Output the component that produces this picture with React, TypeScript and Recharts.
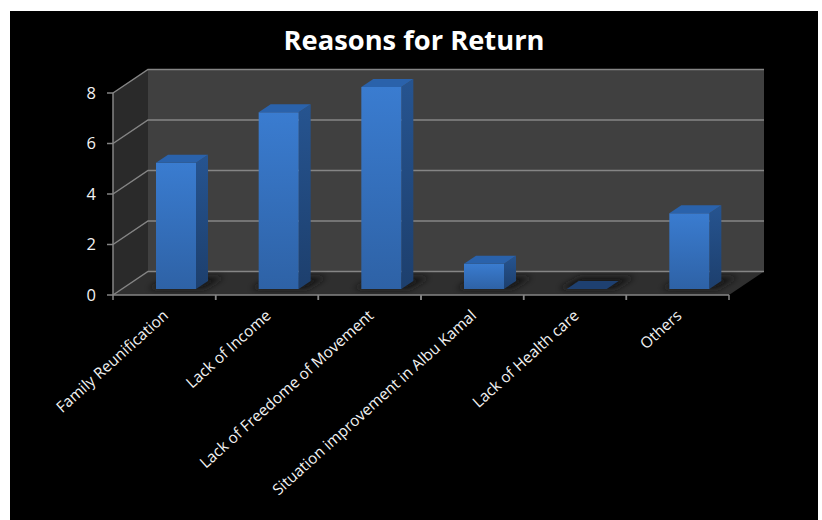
import React from 'react';
import { BarChart, Bar, XAxis, YAxis, ReferenceArea } from 'recharts';

const categories = [
  'Family Reunification',
  'Lack of Income',
  'Lack of Freedome of Movement',
  'Situation improvement in Albu Kamal',
  'Lack of Health care',
  'Others',
];
const returns = [5, 7, 8, 1, 0, 3];
const yTicks = [0, 2, 4, 6, 8];

const data = categories.map((name, i) => ({ name, value: returns[i] }));

const FONT = '"Open Sans", sans-serif';
const AXIS = '#858585';
// oblique offset of the back wall and of the bar plane from the front axes
const WALL_DX = 35;
const WALL_DY = 23.5;
const BAR_DX = 12;
const BAR_DY = 6;
const DEPTH_DX = 12;
const DEPTH_DY = 8;

const pts = (list: number[][]) => list.map((p) => p.join(',')).join(' ');

function Room({ x, y, width, height }: any) {
  const r = x + width;
  const b = y + height;
  return (
    <g>
      <polygon
        points={pts([[x + WALL_DX, y - WALL_DY], [r + WALL_DX, y - WALL_DY], [r + WALL_DX, b - WALL_DY], [x + WALL_DX, b - WALL_DY]])}
        fill="#404040"
      />
      <polygon
        points={pts([[x, y], [x + WALL_DX, y - WALL_DY], [x + WALL_DX, b - WALL_DY], [x, b]])}
        fill="#2a2a2a"
      />
      <polygon
        points={pts([[x, b], [x + WALL_DX, b - WALL_DY], [r + WALL_DX, b - WALL_DY], [r, b]])}
        fill="#2f2f2f"
      />
    </g>
  );
}

function GridLine({ x, y, width }: any) {
  return (
    <polyline
      points={pts([[x, y], [x + WALL_DX, y - WALL_DY], [x + width + WALL_DX, y - WALL_DY]])}
      fill="none"
      stroke={AXIS}
      strokeWidth={1.5}
    />
  );
}

function Bar3D({ x, y, width, height }: any) {
  const l = x + BAR_DX;
  const r = l + width;
  const t = y - BAR_DY;
  const b = t + height;
  const bk = (px: number, py: number) => [px + DEPTH_DX, py - DEPTH_DY];
  return (
    <g>
      <polygon
        points={pts([[l - 8, b], [r + 8, b], [r + 28, b - 12], [l + 14, b - 12]])}
        fill="#191919"
        filter="url(#floorShadow)"
      />
      {height > 0 && (
        <>
          <polygon points={pts([[r, t], bk(r, t), bk(r, b), [r, b]])} fill="url(#barSide)" />
          <rect x={l} y={t} width={width} height={height} fill="url(#barFront)" />
        </>
      )}
      <polygon
        points={pts([[l, t], [r, t], bk(r, t), bk(l, t)])}
        fill={height > 0 ? '#2a62ab' : '#1e4070'}
      />
    </g>
  );
}

function CategoryTick({ x, y, payload }: any) {
  const half = payload.offset ?? 51.33;
  const tx = x + 5;
  const ty = y + 14;
  return (
    <g>
      <line x1={x - half} x2={x - half} y1={y - 8} y2={y - 3} stroke={AXIS} strokeWidth={1.5} />
      <line x1={x + half} x2={x + half} y1={y - 8} y2={y - 3} stroke={AXIS} strokeWidth={1.5} />
      <text
        x={tx}
        y={ty}
        textAnchor="end"
        fill="#f2f2f2"
        fontSize={15.4}
        fontFamily={FONT}
        transform={`rotate(-42 ${tx} ${ty})`}
      >
        {payload.value}
      </text>
    </g>
  );
}

export default function App() {
  return (
    <div style={{ position: 'absolute', left: 0, top: 0, width: 822, height: 520, background: '#fff' }}>
      <div style={{ position: 'absolute', left: 10, top: 11, width: 808, height: 509, background: '#000' }} />
      <div
        style={{
          position: 'absolute',
          left: 214,
          top: 22,
          width: 400,
          textAlign: 'center',
          color: '#fff',
          fontFamily: FONT,
          fontWeight: 700,
          fontSize: 27.3,
          lineHeight: '36px',
        }}
      >
        Reasons for Return
      </div>
      <div style={{ position: 'absolute', left: 0, top: 0 }}>
        <BarChart
          width={822}
          height={520}
          data={data}
          margin={{ top: 93, right: 93, bottom: 0, left: 63 }}
          barCategoryGap={0}
        >
          <defs>
            <linearGradient id="barFront" x1="0" y1="0" x2="0" y2="1">
              <stop offset="0%" stopColor="#3a7cd0" />
              <stop offset="100%" stopColor="#2e62a6" />
            </linearGradient>
            <linearGradient id="barSide" x1="0" y1="0" x2="0" y2="1">
              <stop offset="0%" stopColor="#265490" />
              <stop offset="100%" stopColor="#1d3f6d" />
            </linearGradient>
            <filter id="floorShadow" x="-30%" y="-60%" width="160%" height="220%">
              <feGaussianBlur stdDeviation="3" />
            </filter>
          </defs>
          <ReferenceArea y1={0} y2={8} shape={Room} ifOverflow="visible" />
          {yTicks.map((t) => (
            <ReferenceArea key={t} y1={t} y2={t} shape={GridLine} ifOverflow="visible" />
          ))}
          <XAxis
            dataKey="name"
            height={225}
            interval={0}
            stroke={AXIS}
            strokeWidth={1.5}
            tickLine={false}
            tick={CategoryTick}
          />
          <YAxis
            width={50}
            domain={[0, 8]}
            ticks={yTicks}
            stroke={AXIS}
            strokeWidth={1.5}
            tickSize={6}
            tickMargin={11}
            tick={{ fill: '#f2f2f2', fontSize: 16.5, fontFamily: FONT }}
          />
          <Bar dataKey="value" barSize={40} shape={Bar3D} isAnimationActive={false} />
        </BarChart>
      </div>
    </div>
  );
}
